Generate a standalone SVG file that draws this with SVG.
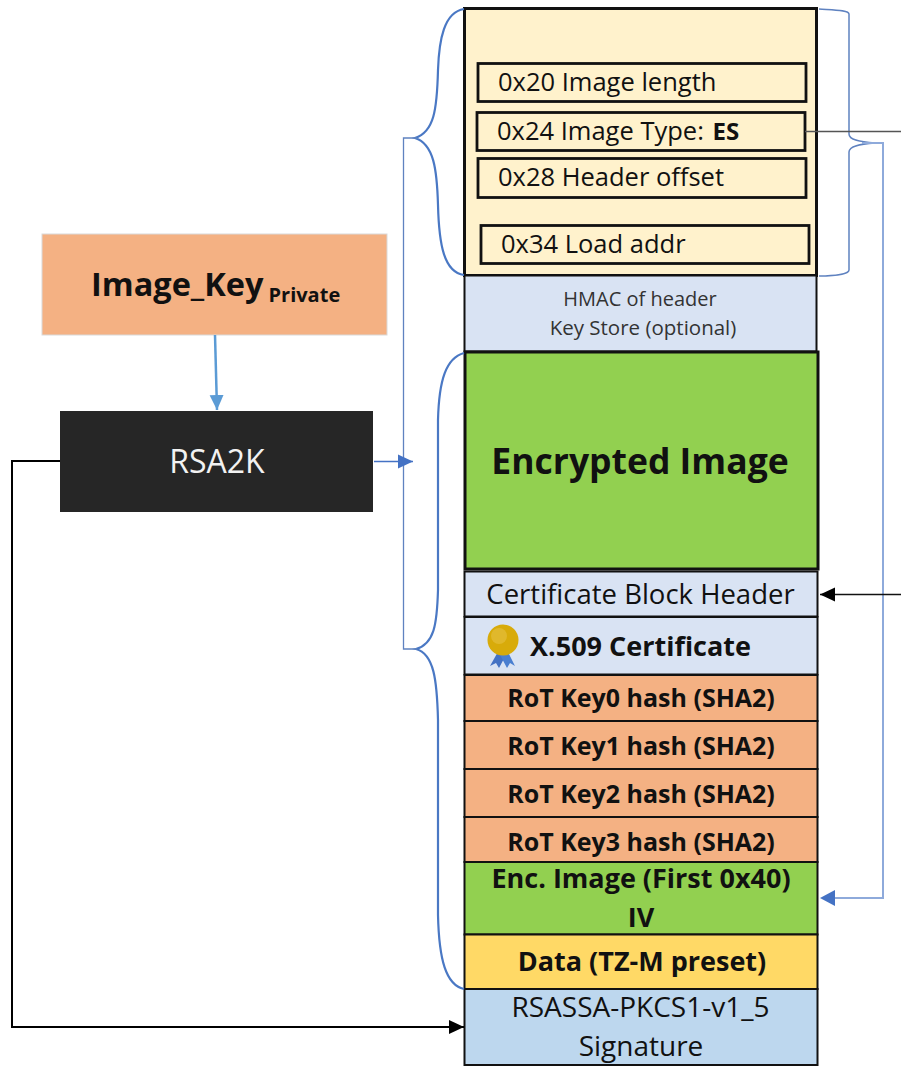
<svg xmlns="http://www.w3.org/2000/svg" width="901" height="1066" viewBox="0 0 901 1066">
<style>
text{font-family:"Open Sans","Noto Sans","Liberation Sans",sans-serif;fill:#111;text-anchor:middle}
.l{text-anchor:start}
.b{font-weight:700}
.s{stroke:#111;stroke-width:2}
.t{stroke:#111;stroke-width:3}
.br{fill:none;stroke:#4a78c4;stroke-width:2.2}
.thin{fill:none;stroke:#5f82c0;stroke-width:1.3}
.hash{fill:#f4b183;stroke:#111;stroke-width:2}
.pale{fill:#d9e3f3;stroke:#111;stroke-width:2}
.in{fill:#fff2cc;stroke:#111;stroke-width:2.800}
</style>
<defs>
<marker id="ak" markerUnits="userSpaceOnUse" markerWidth="16" markerHeight="16" refX="15" refY="8" orient="auto"><path d="M0,1 L15,8 L0,15 Z" fill="#000"/></marker>
<marker id="ab" markerUnits="userSpaceOnUse" markerWidth="16" markerHeight="16" refX="15" refY="8" orient="auto"><path d="M0,1 L15,8 L0,15 Z" fill="#4472c4"/></marker>
<marker id="al" markerUnits="userSpaceOnUse" markerWidth="16" markerHeight="16" refX="15" refY="8" orient="auto"><path d="M0,1 L15,8 L0,15 Z" fill="#5b9bd5"/></marker>
</defs>
<rect width="901" height="1066" fill="#fff"/>

<g id="header"><rect x="464.500" y="8.500" width="352" height="267" fill="#fff2cc" class="t"/></g>
<g id="field-image-length"><rect x="478" y="63.500" width="328" height="38" class="in"/><text class="l" x="498" y="91" font-size="25.500">0x20 Image length</text></g>
<g id="field-image-type"><rect x="477" y="112.500" width="328" height="38" class="in"/><text class="l" x="497" y="140" font-size="25.500">0x24 Image Type: <tspan class="b" font-size="24" dx="2">ES</tspan></text></g>
<g id="field-header-offset"><rect x="478" y="158.500" width="328" height="39" class="in"/><text class="l" x="498" y="186" font-size="25.500">0x28 Header offset</text></g>
<g id="field-load-addr"><rect x="481" y="225.500" width="328" height="38" class="in"/><text class="l" x="501" y="253" font-size="25.500">0x34 Load addr</text></g>

<g id="hmac"><rect x="464.500" y="275.500" width="352" height="76" class="pale"/><text x="640" y="306" font-size="20" style="fill:#333">HMAC of header</text><text x="643" y="335" font-size="20.500" style="fill:#333">Key Store (optional)</text></g>
<g id="encrypted-image"><rect x="465" y="352" width="353" height="217" fill="#92d050" class="t"/><text class="b" x="640" y="474" font-size="35.500">Encrypted Image</text></g>
<g id="cert-header"><rect x="464.500" y="571.500" width="353" height="45" class="pale"/><text x="640.500" y="604" font-size="27.500">Certificate Block Header</text></g>
<g id="x509"><rect x="464.500" y="617" width="353" height="57.500" class="pale"/>
<path d="M499,650 L507,653 L499,668 L496,663 L490,666 Z" fill="#4472c4"/><path d="M507,650 L499,653 L507,668 L510,663 L515,666 Z" fill="#4a7fd0"/>
<circle cx="503" cy="640" r="15.500" fill="#d8ab0a"/><circle cx="499" cy="636" r="8" fill="#e6c243" opacity=".6"/>
<text class="b l" x="530" y="656" font-size="27">X.509 Certificate</text></g>
<g id="rot0"><rect x="464.500" y="675" width="353" height="46" class="hash"/><text class="b" x="641" y="707" font-size="25">RoT Key0 hash (SHA2)</text></g>
<g id="rot1"><rect x="464.500" y="721" width="353" height="48" class="hash"/><text class="b" x="641" y="755" font-size="25">RoT Key1 hash (SHA2)</text></g>
<g id="rot2"><rect x="464.500" y="769" width="353" height="48" class="hash"/><text class="b" x="641" y="803" font-size="25">RoT Key2 hash (SHA2)</text></g>
<g id="rot3"><rect x="464.500" y="817" width="353" height="45" class="hash"/><text class="b" x="641" y="851" font-size="25">RoT Key3 hash (SHA2)</text></g>
<g id="enc-first"><rect x="464.500" y="862" width="353" height="72.500" fill="#92d050" class="s"/><text class="b" x="641" y="888" font-size="27">Enc. Image (First 0x40)</text><text class="b" x="641" y="927" font-size="27">IV</text></g>
<g id="data"><rect x="464.500" y="934.500" width="353" height="54.500" fill="#ffd966" class="s"/><text class="b" x="642" y="971" font-size="27">Data (TZ-M preset)</text></g>
<g id="signature"><rect x="464.500" y="989" width="353" height="76" fill="#bdd7ee" class="s"/><text x="640.500" y="1017" font-size="28">RSASSA-PKCS1-v1_5</text><text x="641" y="1056" font-size="28">Signature</text></g>

<g id="image-key"><rect x="42" y="234" width="345" height="101" fill="#f4b183" stroke="#d9d9d9" stroke-width="1"/><text class="b l" x="91" y="296" font-size="32.500">Image_Key<tspan font-size="20" dx="5" dy="6">Private</tspan></text></g>
<g id="rsa2k"><rect x="60" y="411" width="313" height="101" fill="#262626"/><text x="217" y="473" font-size="32" style="fill:#f2f2f2">RSA2K</text></g>

<g id="connectors">
<path class="br" d="M464,9 C444,12 439,40 438,70 C437,110 434,132 415,138 C434,144 437,170 438,205 C439,245 444,272 464,275"/>
<path class="br" d="M464,353 C446,358 439,380 438,420 L438,590 C437,625 434,644 416,649 C434,654 437,680 438,720 L438,915 C439,960 446,985 464,989"/>
<path class="thin" d="M417,138 H403.500 V649 H417"/>
<path class="thin" d="M819,9 C835,10 849,10 849,14 V134 C849,140 860,142 875,143 C860,144 849,146 849,152 V270 C849,274 835,276 819,276" style="stroke-width:1.500"/>
<path fill="none" stroke="#8eaadb" stroke-width="2" d="M862,143 H883 V898 H835"/>
<path d="M820,898 L835,890 L835,906 Z" fill="#4472c4"/>
<path fill="none" stroke="#555" stroke-width="1.500" d="M805,131.500 H901"/>
<path fill="none" stroke="#111" stroke-width="1.300" marker-end="url(#ak)" d="M901,594.500 H820"/>
<path fill="none" stroke="#5b9bd5" stroke-width="2.500" marker-end="url(#al)" d="M215,335 L217,410"/>
<path fill="none" stroke="#4472c4" stroke-width="1.500" marker-end="url(#ab)" d="M374,461.500 H413"/>
<path fill="none" stroke="#000" stroke-width="2" marker-end="url(#ak)" d="M60,461 H12 V1027 H464"/>
</g>
</svg>
